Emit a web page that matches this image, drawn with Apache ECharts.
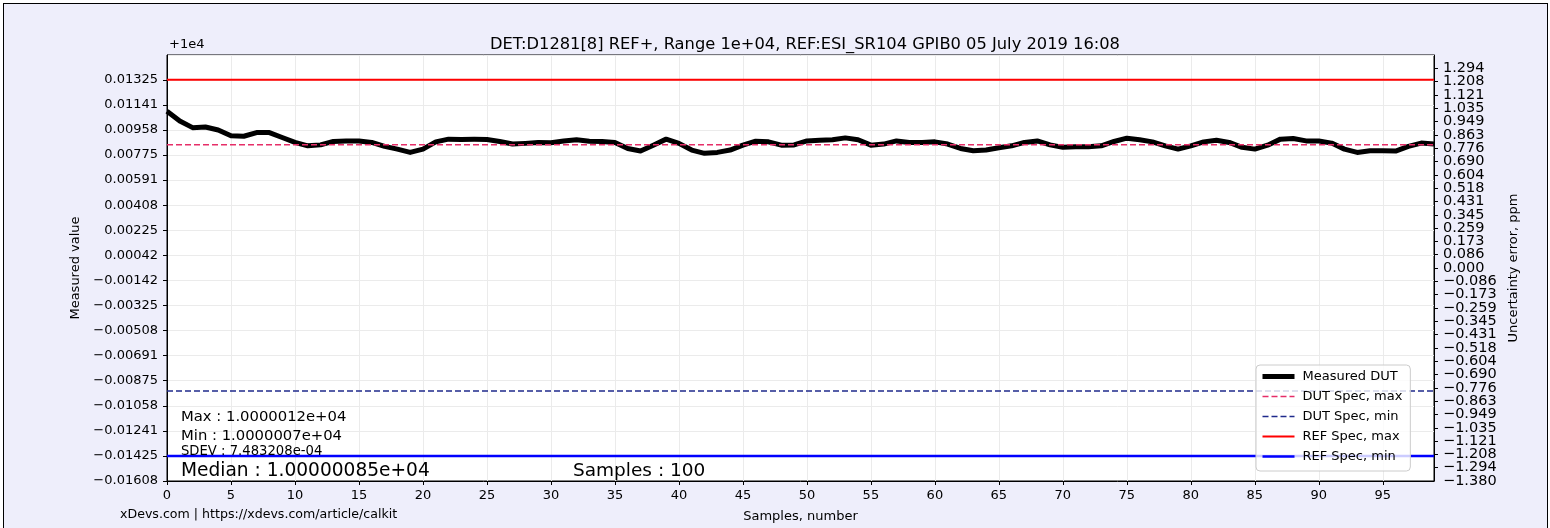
<!DOCTYPE html>
<html>
<head>
<meta charset="utf-8">
<script src="https://cdn.jsdelivr.net/npm/echarts@6/dist/echarts.min.js"></script>
<style>
html, body { margin: 0; padding: 0; background: #fff; }
#bg { position: absolute; left: 3px; top: 3px; width: 1543px; height: 540px; border: 1px solid #000; background: #eeeefb; }
#chart { position: absolute; left: 0; top: 0; width: 1550px; height: 528px; }
</style>
</head>
<body>
<div id="bg"></div>
<div id="chart"></div>
<script>
// measured DUT, offset from 1e4
var measured = [
    0.01095, 0.01023, 0.00975, 0.00980, 0.00958, 0.00915, 0.00912, 0.00939, 0.00939, 0.00903,
    0.00867, 0.00842, 0.00849, 0.00874, 0.00878, 0.00878, 0.00867, 0.00838, 0.00818, 0.00794,
    0.00818, 0.00871, 0.00891, 0.00889, 0.00890, 0.00889, 0.00874, 0.00855, 0.00860, 0.00867,
    0.00865, 0.00878, 0.00886, 0.00876, 0.00874, 0.00867, 0.00823, 0.00804, 0.00847, 0.00891,
    0.00860, 0.00811, 0.00787, 0.00794, 0.00811, 0.00847, 0.00876, 0.00871, 0.00847, 0.00849,
    0.00878, 0.00883, 0.00886, 0.00900, 0.00886, 0.00847, 0.00855, 0.00878, 0.00867, 0.00867,
    0.00871, 0.00855, 0.00823, 0.00806, 0.00811, 0.00828, 0.00842, 0.00867, 0.00878, 0.00849,
    0.00831, 0.00835, 0.00835, 0.00842, 0.00874, 0.00898, 0.00886, 0.00871, 0.00842, 0.00818,
    0.00842, 0.00871, 0.00883, 0.00867, 0.00831, 0.00818, 0.00847, 0.00891, 0.00896, 0.00878,
    0.00878, 0.00862, 0.00818, 0.00794, 0.00806, 0.00806, 0.00804, 0.00838, 0.00862, 0.00855
]
var dutMax = 0.0085
var dutMin = -0.0095
var refMax = 0.01325
var refMin = -0.01425

var leftTickLabels = ['\u22120.01608', '\u22120.01425', '\u22120.01241', '\u22120.01058', '\u22120.00875',
    '\u22120.00691', '\u22120.00508', '\u22120.00325', '\u22120.00142', '0.00042', '0.00225', '0.00408',
    '0.00591', '0.00775', '0.00958', '0.01141', '0.01325']
var rightTickLabels = ['\u22121.380', '\u22121.294', '\u22121.208', '\u22121.121', '\u22121.035', '\u22120.949',
    '\u22120.863', '\u22120.776', '\u22120.690', '\u22120.604', '\u22120.518', '\u22120.431', '\u22120.345',
    '\u22120.259', '\u22120.173', '\u22120.086', '0.000', '0.086', '0.173', '0.259', '0.345', '0.431',
    '0.518', '0.604', '0.690', '0.776', '0.863', '0.949', '1.035', '1.121', '1.208', '1.294']

var yMin = -0.01608
var yStep = (0.01325 - yMin) / 16
var yMax = 0.01506
var rMin = -1.38
var rStep = 0.08625
var font = 'DejaVu Sans'

var chart = echarts.init(document.getElementById('chart'))

var measuredData = measured.map(function(v, i) { return [i, v] })
var lastX = measured.length - 1

function flat(v) {
    return [[0, v], [lastX, v]]
}

function note(x, y, text, size) {
    return {
        type: 'text', x: x, y: y, z: 100,
        style: { text: text, font: size + 'px DejaVu Sans', fill: '#000', verticalAlign: 'middle' }
    }
}

function rightLabel(v) {
    return rightTickLabels[Math.round((v - rMin) / rStep)] || ''
}

var rightLabelStyle = { margin: 9, fontFamily: font, fontSize: 14.5, color: '#000', showMaxLabel: false }

var options = {
    animation: false,
    backgroundColor: 'transparent',
    title: {
        text: 'DET:D1281[8] REF+, Range 1e+04, REF:ESI_SR104 GPIB0 05 July 2019 16:08',
        left: 800,
        textAlign: 'center',
        top: 32,
        textStyle: { fontFamily: font, fontSize: 16.3, fontWeight: 'normal', color: '#000' }
    },
    grid: {
        left: 167, right: 116, top: 55, bottom: 42,
        show: true, backgroundColor: '#fff', borderColor: '#000', borderWidth: 1
    },
    legend: {
        orient: 'vertical',
        left: 1256, top: 365,
        itemWidth: 32, itemHeight: 14, itemGap: 7,
        padding: [5, 8, 8, 4],
        backgroundColor: 'rgba(255,255,255,0.8)',
        borderColor: '#cccccc', borderWidth: 1, borderRadius: 4,
        itemStyle: { opacity: 0 },
        lineStyle: { width: 'inherit' },
        textStyle: { fontFamily: font, fontSize: 13, color: '#000', padding: [0, 0, 0, 3] },
        data: ['Measured DUT', 'DUT Spec, max', 'DUT Spec, min', 'REF Spec, max', 'REF Spec, min']
    },
    xAxis: {
        type: 'value', min: 0, max: lastX, interval: 5,
        name: 'Samples, number', nameLocation: 'middle', nameGap: 29,
        nameTextStyle: { fontFamily: font, fontSize: 13, color: '#000' },
        axisLine: { show: true, onZero: false, lineStyle: { color: '#000' } },
        axisTick: { show: true, length: 4, lineStyle: { color: '#000' } },
        axisLabel: { showMaxLabel: false, margin: 8, fontFamily: font, fontSize: 13, color: '#000' },
        splitLine: { show: true, lineStyle: { color: '#ebebeb' } }
    },
    yAxis: [{
        type: 'value', position: 'left', min: yMin, max: yMax, interval: yStep,
        name: 'Measured value', nameLocation: 'middle', nameGap: 83, nameRotate: 90,
        nameTextStyle: { fontFamily: font, fontSize: 13, color: '#000' },
        axisLine: { show: true, onZero: false, lineStyle: { color: '#000' } },
        axisTick: { show: true, length: 4, lineStyle: { color: '#000' } },
        axisLabel: {
            showMaxLabel: false, showMinLabel: true, hideOverlap: false,
            margin: 9, fontFamily: font, fontSize: 13, color: '#000',
            formatter: function(v) {
                var k = Math.round((v - yMin) / yStep)
                return leftTickLabels[k] || ''
            }
        },
        splitLine: { show: true, lineStyle: { color: '#ebebeb' } }
    }, {
        // ppm scale, all labels but the bottom one
        type: 'value', position: 'right', offset: 0, min: rMin, max: -rMin, interval: rStep,
        name: 'Uncertainty error, ppm', nameLocation: 'middle', nameGap: 70, nameRotate: 90,
        nameTextStyle: { fontFamily: font, fontSize: 13, color: '#000' },
        axisLine: { show: true, onZero: false, lineStyle: { color: '#000' } },
        axisTick: { show: true, length: 4, lineStyle: { color: '#000' } },
        axisLabel: Object.assign({ showMinLabel: false, formatter: rightLabel }, rightLabelStyle),
        splitLine: { show: false }
    }, {
        // same ppm scale, only the bottom label (ECharts drops it when labels crowd)
        type: 'value', position: 'right', offset: 0, min: rMin, max: -rMin, interval: rStep,
        axisLine: { show: false, onZero: false },
        axisTick: { show: false },
        axisLabel: Object.assign({
            showMinLabel: true,
            formatter: function(v) {
                return Math.round((v - rMin) / rStep) === 0 ? rightLabel(v) : ''
            }
        }, rightLabelStyle),
        splitLine: { show: false }
    }],
    series: [{
        name: 'Measured DUT', type: 'line', symbol: 'none', data: measuredData,
        lineStyle: { color: '#000', width: 5, join: 'round' }, itemStyle: { color: '#000' }
    }, {
        name: 'DUT Spec, max', type: 'line', symbol: 'none', data: flat(dutMax),
        lineStyle: { color: '#e62e68', width: 1.5, type: [6, 3] }, itemStyle: { color: '#e62e68' }
    }, {
        name: 'DUT Spec, min', type: 'line', symbol: 'none', data: flat(dutMin),
        lineStyle: { color: '#1f2a8c', width: 1.5, type: [6, 3] }, itemStyle: { color: '#1f2a8c' }
    }, {
        name: 'REF Spec, max', type: 'line', symbol: 'none', data: flat(refMax),
        lineStyle: { color: '#ff0000', width: 2 }, itemStyle: { color: '#ff0000' }
    }, {
        name: 'REF Spec, min', type: 'line', symbol: 'none', data: flat(refMin),
        lineStyle: { color: '#0000ff', width: 2.5 }, itemStyle: { color: '#0000ff' }
    }],
    graphic: [
        note(169, 45, '+1e4', 13),
        note(181, 417, 'Max : 1.0000012e+04', 14.8),
        note(181, 436, 'Min : 1.0000007e+04', 14.8),
        note(181, 452, 'SDEV : 7.483208e-04', 13.2),
        note(181, 471, 'Median : 1.00000085e+04', 18.6),
        note(573, 471, 'Samples : 100', 18.5),
        note(120, 515, 'xDevs.com | https://xdevs.com/article/calkit', 12.6)
    ]
}

chart.setOption(options)
</script>
</body>
</html>
